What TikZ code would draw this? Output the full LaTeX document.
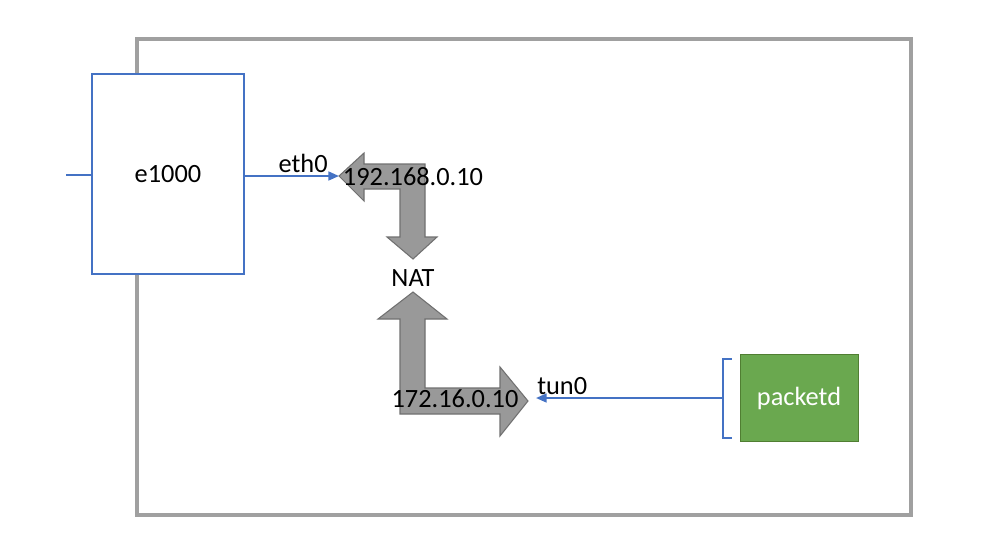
\documentclass[tikz,border=0pt]{standalone}
\usepackage{fontspec}
\setmainfont{Carlito}
\usepackage{tikz}
\usetikzlibrary{arrows.meta, positioning, calc}
\usepackage{xcolor}
\definecolor{linkblue}{HTML}{4472C4}
\definecolor{boxgray}{HTML}{A0A0A0}
\definecolor{natgray}{HTML}{999999}
\definecolor{natedge}{HTML}{707070}
\definecolor{procgreen}{HTML}{6AA84F}
\definecolor{procedge}{HTML}{507E32}

\begin{document}
\begin{tikzpicture}[x=0.02cm,y=-0.02cm,
  font=\fontsize{15}{18}\selectfont,
  link/.style={draw=linkblue,line width=1.1pt},
  natarrow/.style={fill=natgray,draw=natedge,line width=0.6pt}]
  \useasboundingbox (0,0) rectangle (993,552);
  % Host frame
  \draw[boxgray,line width=2.2pt] (137,39) rectangle (911,515);
  % NIC
  \node[draw=linkblue,fill=white,line width=0.7pt,minimum width=152*0.02cm,
    minimum height=200*0.02cm,inner sep=0pt] (nic) at (168,174) {e1000};
  \coordinate (wire) at (66,175);
  \draw[link] (wire) -- (nic.west |- wire);
  % NAT arrows
  \draw[natarrow] (339,176) -- (364,153) -- (364,164) -- (425,164) -- (425,237)
    -- (437,237) -- (413,259) -- (387,237) -- (400,237) -- (400,189)
    -- (364,189) -- (364,201) -- cycle;
  \draw[natarrow] (413,292) -- (447,319) -- (425,319) -- (425,388) -- (500,388)
    -- (500,367) -- (528,401) -- (500,436) -- (500,414) -- (400,414)
    -- (400,319) -- (378,319) -- cycle;
  \coordinate (ethtip) at (339,176);
  \coordinate (tuntip) at (536,398);
  \node (ethaddr) at (413,177) {192.168.0.10};
  \node (nat) at (413,278) {NAT};
  \node (tunaddr) at (455,399) {172.16.0.10};
  % eth0 link
  \draw[link,-{Triangle[length=6pt,width=5pt]}] (nic.east |- ethtip) -- (ethtip)
    node[pos=0.62,above,yshift=-2pt] (eth) {eth0};
  % packetd
  \node[fill=procgreen,draw=procedge,line width=0.5pt,text=white,
    minimum width=118*0.02cm,minimum height=87*0.02cm] (packetd) at (799,398) {packetd};
  \coordinate (brack) at (723,398);
  \draw[link] ($(packetd.north west)+(-8,5)$) -| (brack)
    |- ($(packetd.south west)+(-8,-4)$);
  \draw[link,-{Triangle[length=6pt,width=5pt]}] (brack) -- (tuntip)
    node[pos=0.86,above,yshift=-2pt] (tun) {tun0};
\end{tikzpicture}
\end{document}
